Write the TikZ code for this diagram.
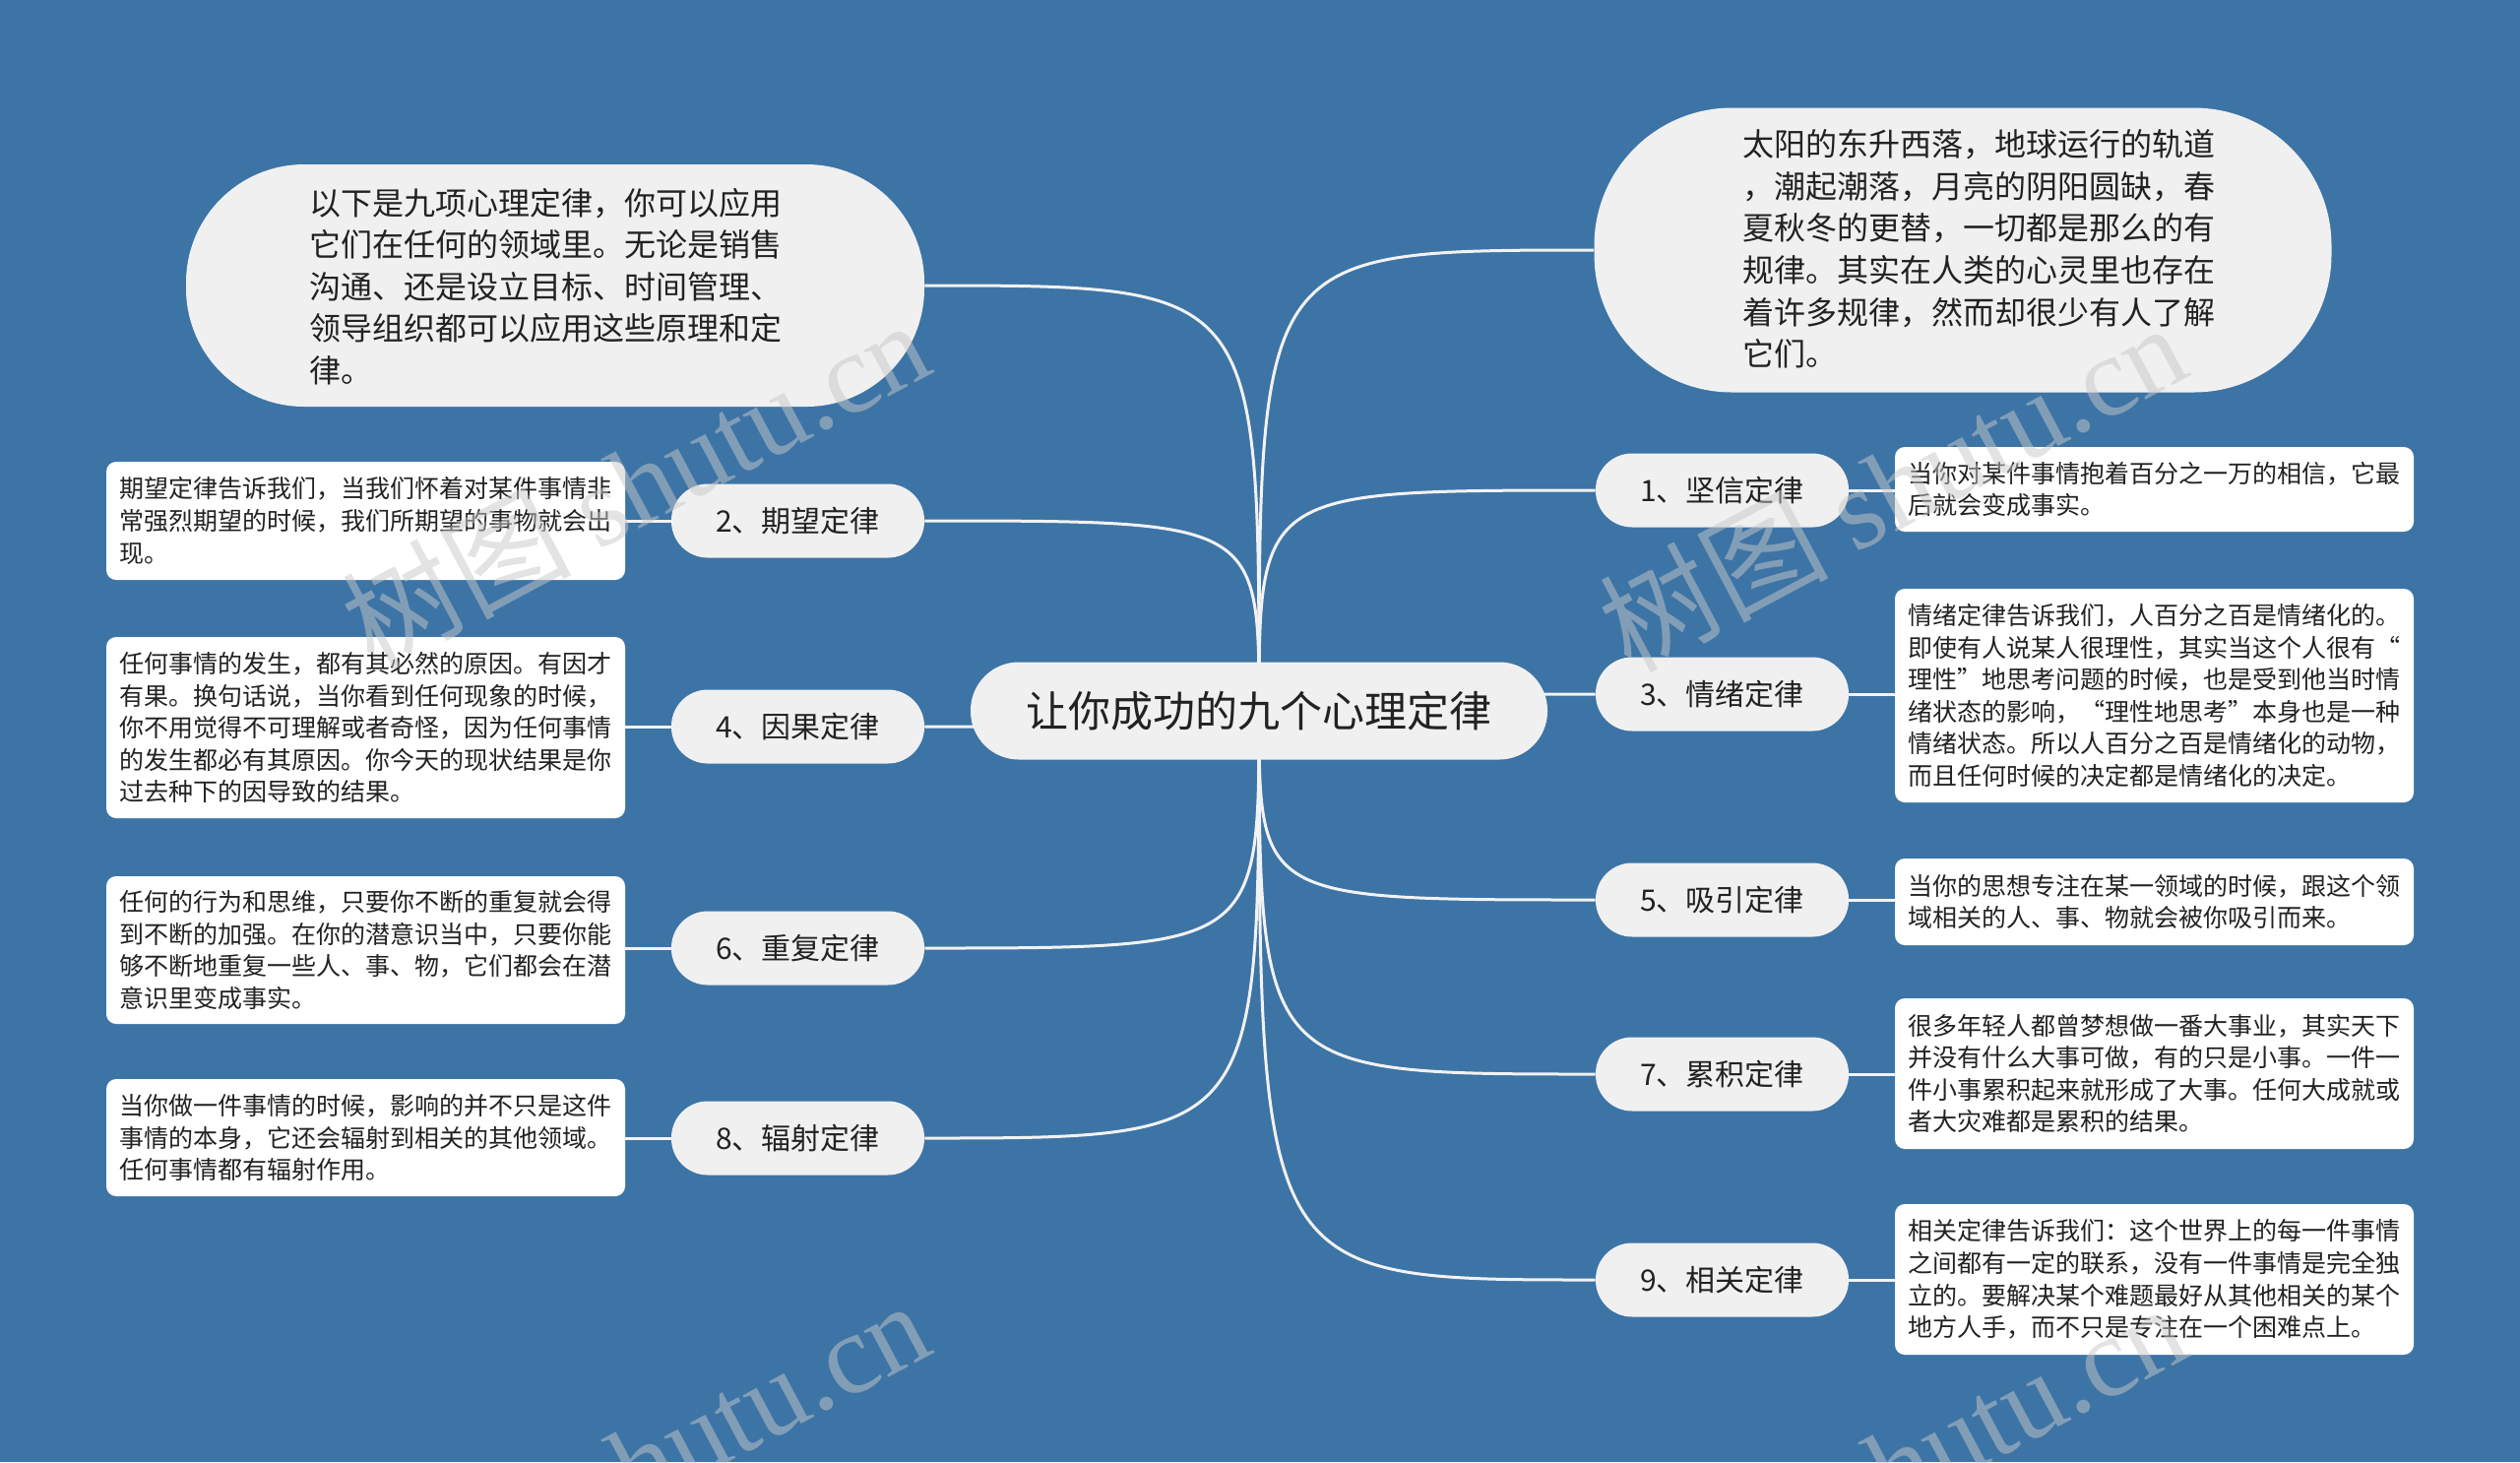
\documentclass[tikz,border=0pt]{standalone}
\usepackage{fontspec}
\setmainfont{Noto Sans CJK SC}
\newfontfamily\wmlatin{Liberation Serif}
\newfontfamily\wmcjk{Noto Sans CJK SC}
\definecolor{bg}{HTML}{3D74A6}
\definecolor{bub}{HTML}{F0F0F0}
\definecolor{txt}{HTML}{222222}
\definecolor{lnk}{HTML}{F2F2F2}
\definecolor{wmc}{HTML}{C8C8C8}
\pgfdeclarelayer{back}
\pgfdeclarelayer{links}
\pgfsetlayers{back,links,main}
\begin{document}
\begin{tikzpicture}[x=0.5pt,y=-0.5pt,
  bubble/.style={fill=bub, draw=none, inner sep=0pt},
  bubtext/.style={text=txt, align=left, inner sep=0pt, font=\fontsize{16}{21.3}\selectfont},
  root/.style={fill=bub, text=txt, font=\fontsize{21.5}{26}\selectfont, minimum width=293pt, minimum height=49.5pt, rounded corners=24.5pt, inner sep=0pt},
  pill/.style={fill=bub, text=txt, font=\fontsize{15}{18}\selectfont, minimum width=128.5pt, minimum height=37.5pt, rounded corners=18.5pt, inner sep=0pt},
  note/.style={fill=white, text=txt, align=left, text width=250pt, inner xsep=6.75pt, inner ysep=0pt, rounded corners=5pt, font=\fontsize{12.5}{16.3}\selectfont},
  link/.style={draw=lnk, line width=1.5pt},
  wm/.style={text=wmc, opacity=0.5, inner sep=0pt, font=\fontsize{58}{60}\selectfont},
]
\begin{pgfonlayer}{back}
\fill[bg] (0,0) rectangle (2560,1485);
\end{pgfonlayer}
\useasboundingbox (0,0) rectangle (2560,1485);
\clip (0,0) rectangle (2560,1485);

% root
\node[root] (root) at (1279,722) {让你成功的九个心理定律};

% bubbles
\node[bubble, minimum width=375pt, minimum height=123pt, rounded corners=60pt] (tl) at (564,290) {};
\node[bubtext] (tltext) at (554,291) {以下是九项心理定律，你可以应用\\它们在任何的领域里。无论是销售\\沟通、还是设立目标、时间管理、\\领导组织都可以应用这些原理和定\\律。};
\node[bubble, minimum width=374.5pt, minimum height=144.5pt, rounded corners=70pt] (tr) at (1994,254) {};
\node[bubtext] (trtext) at (2010,253) {太阳的东升西落，地球运行的轨道\\，潮起潮落，月亮的阴阳圆缺，春\\夏秋冬的更替，一切都是那么的有\\规律。其实在人类的心灵里也存在\\着许多规律，然而却很少有人了解\\它们。};

% left pills
\node[pill] (p2) at (810.5,529) {2、期望定律};
\node[pill] (p4) at (810.5,738) {4、因果定律};
\node[pill] (p6) at (810.5,963) {6、重复定律};
\node[pill] (p8) at (810.5,1156) {8、辐射定律};
% right pills
\node[pill] (p1) at (1749.5,498) {1、坚信定律};
\node[pill] (p3) at (1749.5,705) {3、情绪定律};
\node[pill] (p5) at (1749.5,914) {5、吸引定律};
\node[pill] (p7) at (1749.5,1091) {7、累积定律};
\node[pill] (p9) at (1749.5,1300) {9、相关定律};

% left notes
\node[note, minimum height=60pt] (n2) at (371.5,529) {期望定律告诉我们，当我们怀着对某件事情非\\常强烈期望的时候，我们所期望的事物就会出\\现。};
\node[note, minimum height=92pt] (n4) at (371.5,739) {任何事情的发生，都有其必然的原因。有因才\\有果。换句话说，当你看到任何现象的时候，\\你不用觉得不可理解或者奇怪，因为任何事情\\的发生都必有其原因。你今天的现状结果是你\\过去种下的因导致的结果。};
\node[note, minimum height=75pt] (n6) at (371.5,965) {任何的行为和思维，只要你不断的重复就会得\\到不断的加强。在你的潜意识当中，只要你能\\够不断地重复一些人、事、物，它们都会在潜\\意识里变成事实。};
\node[note, minimum height=59.5pt] (n8) at (371.5,1155.5) {当你做一件事情的时候，影响的并不只是这件\\事情的本身，它还会辐射到相关的其他领域。\\任何事情都有辐射作用。};
% right notes
\node[note, minimum height=43pt] (n1) at (2188.5,497) {当你对某件事情抱着百分之一万的相信，它最\\后就会变成事实。};
\node[note, minimum height=108.5pt] (n3) at (2188.5,706.5) {情绪定律告诉我们，人百分之百是情绪化的。\\即使有人说某人很理性，其实当这个人很有“\\理性”地思考问题的时候，也是受到他当时情\\绪状态的影响，“理性地思考”本身也是一种\\情绪状态。所以人百分之百是情绪化的动物，\\而且任何时候的决定都是情绪化的决定。};
\node[note, minimum height=44pt] (n5) at (2188.5,916) {当你的思想专注在某一领域的时候，跟这个领\\域相关的人、事、物就会被你吸引而来。};
\node[note, minimum height=76.5pt] (n7) at (2188.5,1090.5) {很多年轻人都曾梦想做一番大事业，其实天下\\并没有什么大事可做，有的只是小事。一件一\\件小事累积起来就形成了大事。任何大成就或\\者大灾难都是累积的结果。};
\node[note, minimum height=76.5pt] (n9) at (2188.5,1299.5) {相关定律告诉我们：这个世界上的每一件事情\\之间都有一定的联系，没有一件事情是完全独\\立的。要解决某个难题最好从其他相关的某个\\地方人手，而不只是专注在一个困难点上。};

\begin{pgfonlayer}{links}
\foreach \t in {tl,p2,p4,p6,p8}{
  \draw[link] (root.center) .. controls (root.center |- \t.east) .. (\t.east);
}
\foreach \t in {tr,p1,p3,p5,p7,p9}{
  \draw[link] (root.center) .. controls (root.center |- \t.west) .. (\t.west);
}
\foreach \p/\n in {p2/n2,p4/n4,p6/n6,p8/n8}{
  \draw[link] (\p.west) -- (\p.west -| \n.east);
}
\foreach \p/\n in {p1/n1,p3/n3,p5/n5,p7/n7,p9/n9}{
  \draw[link] (\p.east) -- (\p.east -| \n.west);
}
\end{pgfonlayer}

% watermarks
\node[wm, rotate=28] (wm1) at (645,490) {{\wmcjk 树图} {\wmlatin shutu.cn}};
\node[wm, rotate=28] (wm2) at (1922,493) {{\wmcjk 树图} {\wmlatin shutu.cn}};
\node[wm, rotate=28] (wm3) at (645,1486) {{\wmcjk 树图} {\wmlatin shutu.cn}};
\node[wm, rotate=28] (wm4) at (1922,1489) {{\wmcjk 树图} {\wmlatin shutu.cn}};
\end{tikzpicture}
\end{document}
